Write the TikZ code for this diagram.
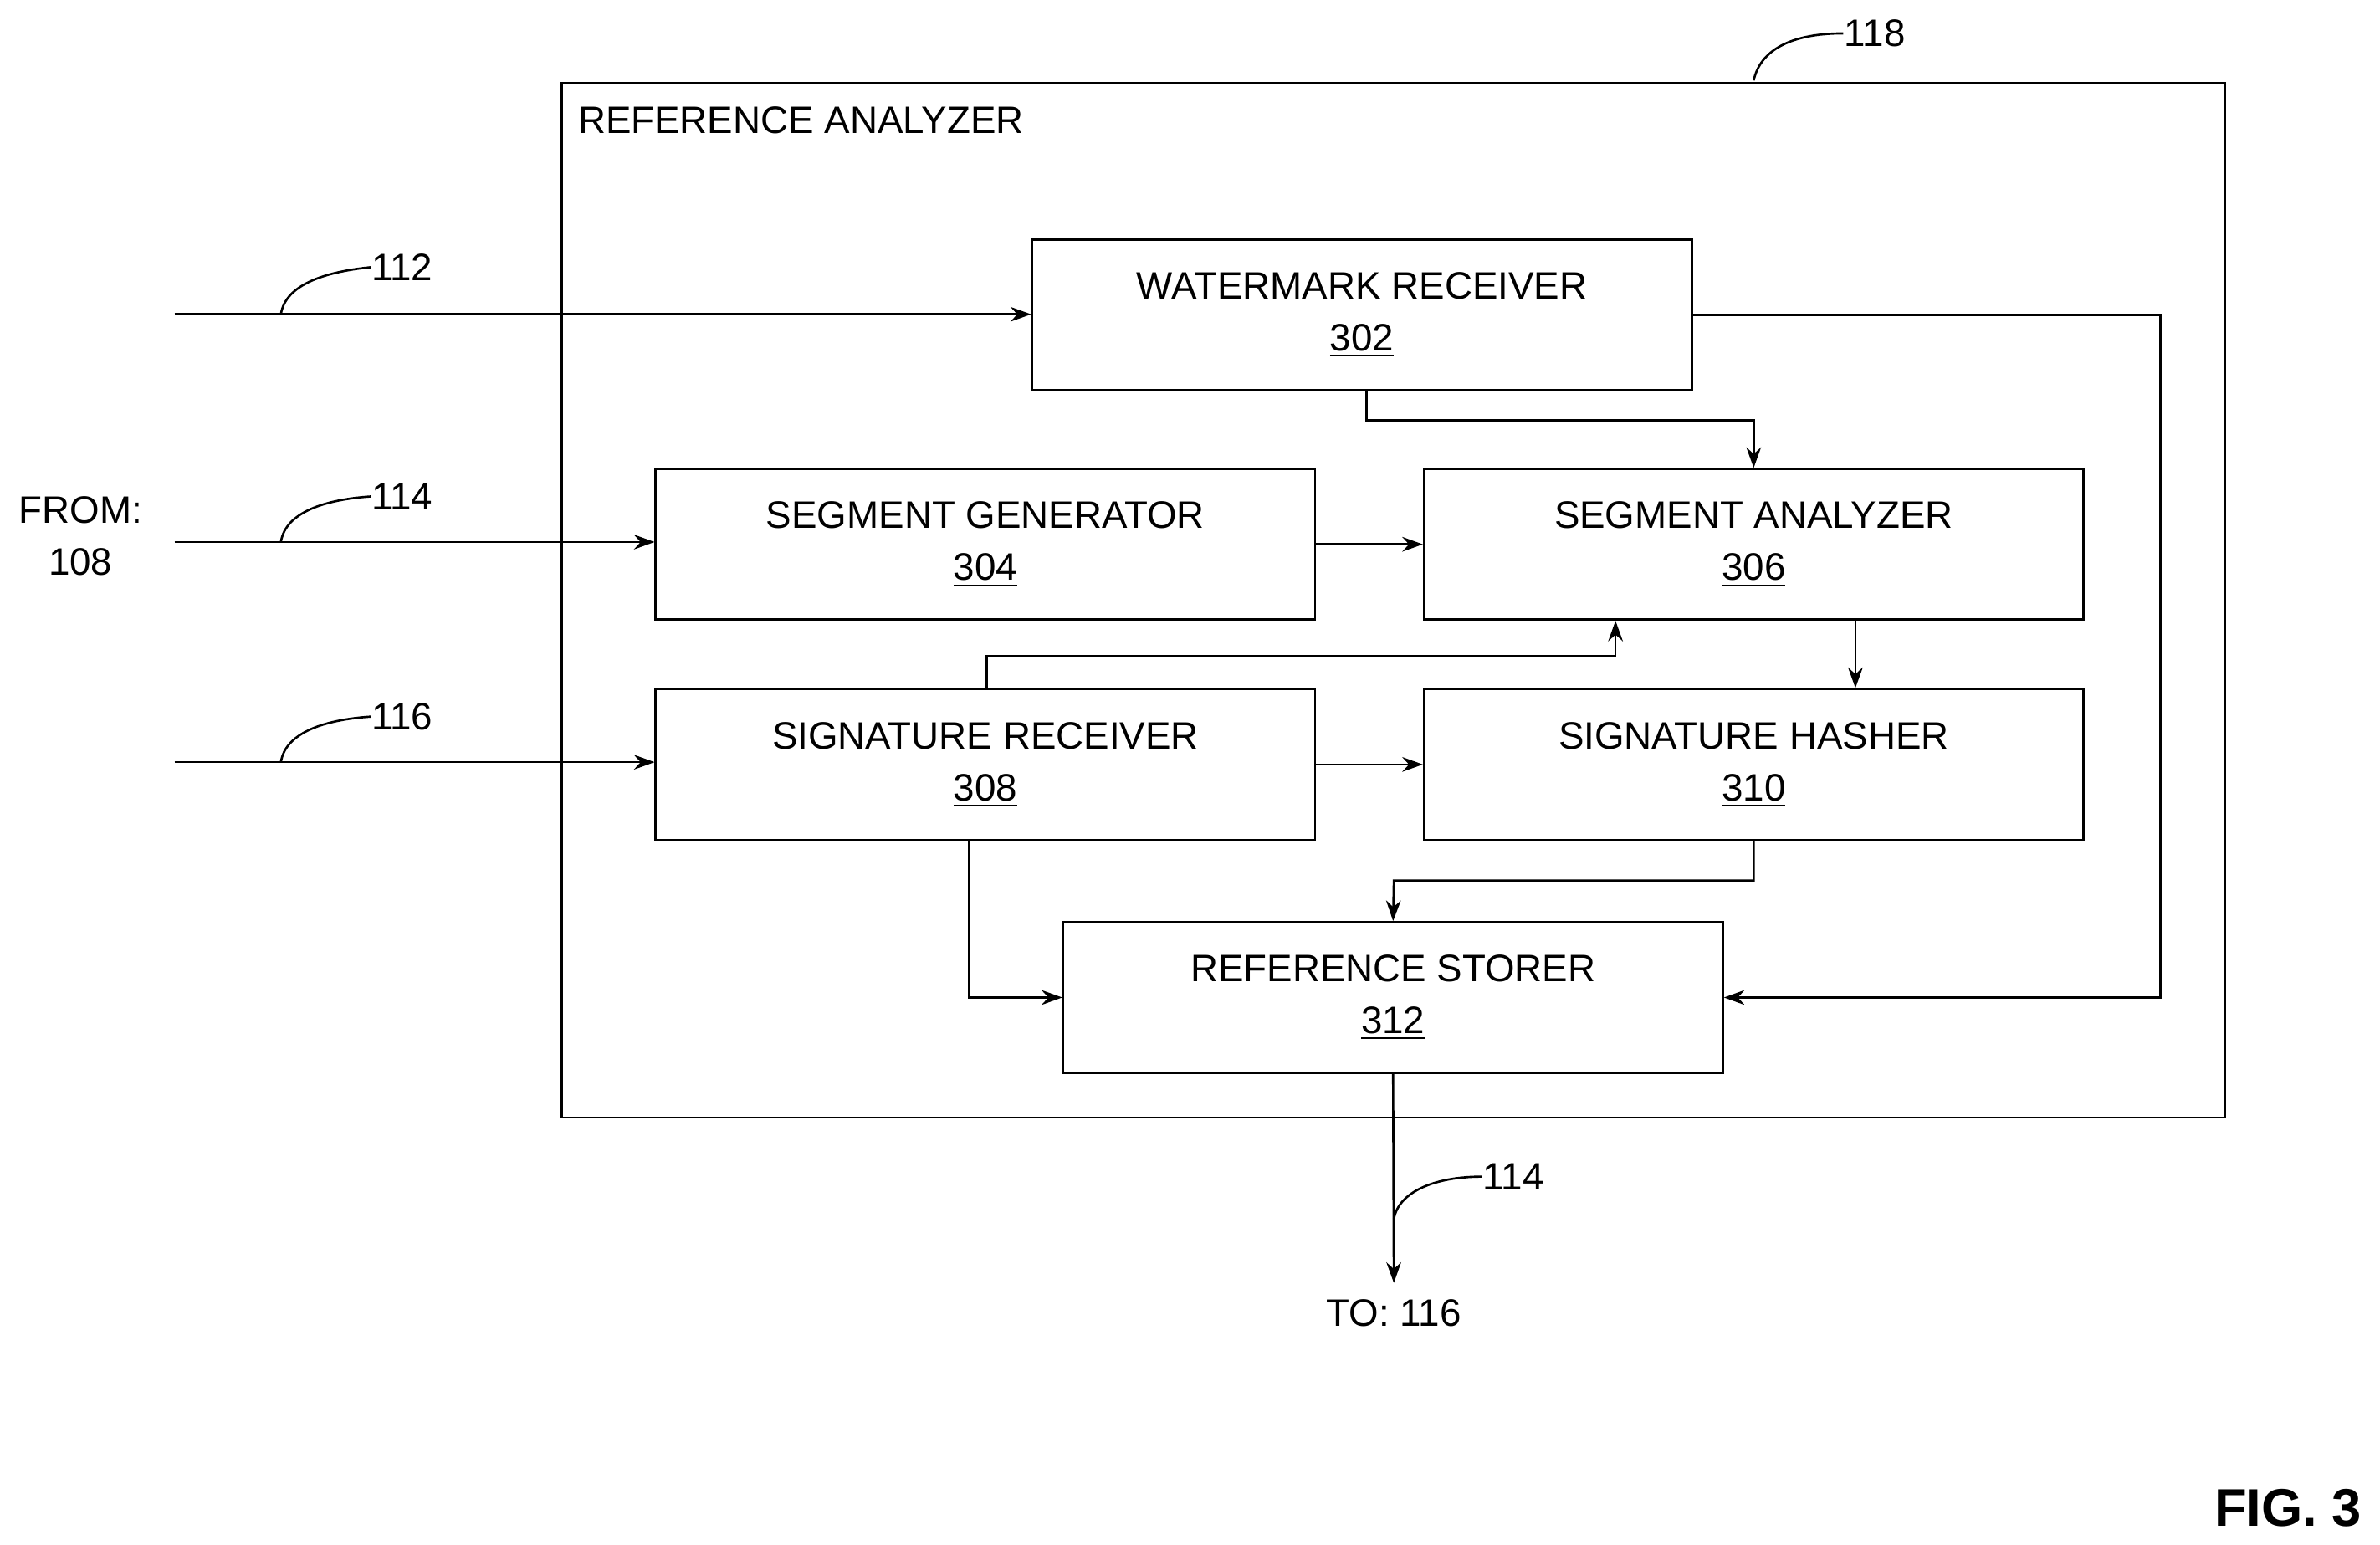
\documentclass[tikz,border=0pt]{standalone}
\usepackage{fontspec}
\setmainfont{Liberation Sans}
\usetikzlibrary{arrows.meta}
\begin{document}
\fontsize{13}{17.6}\selectfont
\begin{tikzpicture}[
    x=0.01815cm, y=-0.01815cm,
    line width=0.75pt,
    block/.style={rectangle, draw, minimum width=7.88cm, minimum height=1.80cm, align=center, inner sep=0pt},
    arrow/.style={-{Stealth[length=7pt,width=5pt]}},
    lbl/.style={inner sep=0pt}
]
    \useasboundingbox (0,0) rectangle (1567.5,1017.6);

    % Outer frame
    \node[draw, minimum width=19.87cm, minimum height=12.36cm, inner sep=0pt] (frame) at (917.5,395.5) {};
    \node[lbl, anchor=west] (title) at (380,79) {REFERENCE ANALYZER};
    \node[lbl, anchor=west] (n118) at (1214,22) {118};
    \draw (1155,53) .. controls (1160,30) and (1185,22) .. (n118.west);

    % Blocks
    \node[block] (wr) at (897,207.5) {WATERMARK RECEIVER\\\underline{302}};
    \node[block] (sg) at (649,358.5) {SEGMENT GENERATOR\\\underline{304}};
    \node[block] (sa) at (1155,358.5) {SEGMENT ANALYZER\\\underline{306}};
    \node[block] (sr) at (649,503.5) {SIGNATURE RECEIVER\\\underline{308}};
    \node[block] (sh) at (1155,503.5) {SIGNATURE HASHER\\\underline{310}};
    \node[block] (rs) at (917.5,657) {REFERENCE STORER\\\underline{312}};

    % Inputs
    \coordinate (in112) at (115,207);
    \coordinate (in114) at (115,357);
    \coordinate (in116) at (115,502);
    \draw[arrow] (in112) -- (in112 -| wr.west);
    \draw[arrow] (in114) -- (in114 -| sg.west);
    \draw[arrow] (in116) -- (in116 -| sr.west);
    \node[lbl, anchor=west] (n112) at (244,176) {112};
    \node[lbl, anchor=west] (n114) at (244,327) {114};
    \node[lbl, anchor=west] (n116) at (244,472) {116};
    \foreach \n/\y in {n112/207, n114/357, n116/502}
        \draw (185,\y) .. controls (188,\y-20) and (215,\y-28) .. (\n.west);
    \node[align=center, lbl] (from) at (53,353) {FROM:\\108};

    % Connections
    \draw[arrow] (wr.south -| 900,0) |- (1155,277) -- (sa.north -| 1155,0);
    \draw[arrow] (wr.east) -| (1423,657) -- (rs.east);
    \draw[arrow] (sg.east) -- (sa.west);
    \draw[arrow] (sr.north -| 650,0) |- (1064,432) -- (sa.south -| 1064,0);
    \draw[arrow] (sa.south -| 1222,0) -- (sh.north -| 1222,0);
    \draw[arrow] (sr.east) -- (sh.west);
    \draw[arrow] (sh.south) |- (918,580) -- (rs.north);
    \draw[arrow] (sr.south -| 638,0) |- (rs.west);

    % Output
    \coordinate (out) at (918,845);
    \draw[arrow] (rs.south) -- (out);
    \node[lbl, anchor=west] (n114b) at (976,775) {114};
    \draw (918,803) .. controls (921,785) and (945,775) .. (n114b.west);
    \node[lbl] (to) at (918,865) {TO: 116};

    \node[lbl, font=\fontsize{18}{20}\selectfont\bfseries] (fig) at (1507,993) {FIG. 3};
\end{tikzpicture}
\end{document}
